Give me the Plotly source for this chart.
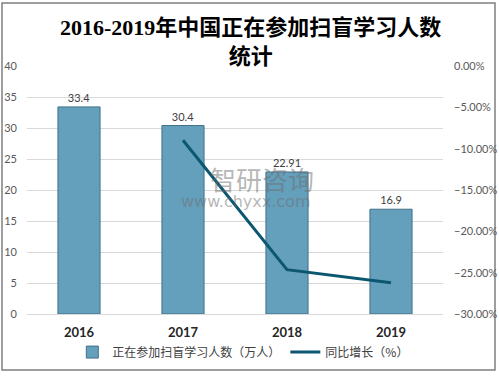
import plotly.graph_objects as go

years = ["2016", "2017", "2018", "2019"]
learners = [33.4, 30.4, 22.91, 16.9]
growth_years = ["2017", "2018", "2019"]
growth = [-8.98, -24.64, -26.23]
bar_labels = ["33.4", "30.4", "22.91", "16.9"]

title = "<b>2016-2019年中国正在参加扫盲学习人数<br>统计</b>"
bar_name = "正在参加扫盲学习人数（万人）"
line_name = "同比增长（%）"

fig = go.Figure()
fig.add_trace(go.Bar(
    x=years, y=learners, name=bar_name, text=bar_labels,
    textposition="outside", cliponaxis=False,
    textfont=dict(size=11, color="#404040", family="Lato, Liberation Sans"),
    marker=dict(color="#649FBC", line=dict(color="#41718A", width=1)),
    width=0.405,
))
fig.add_trace(go.Scatter(
    x=growth_years, y=growth, name=line_name, yaxis="y2", mode="lines",
    line=dict(color="#0C5770", width=3),
))

fig.update_layout(
    width=499, height=379,
    margin=dict(l=27, r=56, t=66, b=65, autoexpand=False),
    paper_bgcolor="white", plot_bgcolor="white",
    font=dict(family="Noto Sans CJK SC", color="#404040"),
    bargap=0.6,
    showlegend=True,
    legend=dict(orientation="h", x=0.52, xanchor="center", yref="container",
                y=0.071, yanchor="middle",
                font=dict(size=12, color="#404040", family="Noto Sans CJK SC"),
                itemwidth=30, tracegroupgap=0),
    xaxis=dict(showgrid=False, showline=True, linecolor="#D9D9D9", linewidth=1,
               ticks="", automargin=False,
               tickfont=dict(size=13, color="#262626", family="Lato, Liberation Sans",
                             weight="bold"),
               ticklabelstandoff=6),
    yaxis=dict(range=[0, 40], dtick=5, showgrid=True, gridcolor="#D9D9D9", zeroline=False,
               automargin=False,
               tickfont=dict(size=11, color="#595959", family="Lato, Liberation Sans"),
               ticklabelstandoff=9),
    yaxis2=dict(range=[-30, 0], dtick=5, overlaying="y", side="right", showgrid=False,
                zeroline=False, tickformat=".2f", ticksuffix="%", automargin=False,
                tickfont=dict(size=11, color="#595959", family="Lato, Liberation Sans"),
                ticklabelstandoff=10),
    shapes=[dict(type="rect", xref="paper", yref="paper",
                 x0=-0.0601, x1=1.125, y0=-0.2258, y1=1.254,
                 line=dict(color="#7F7F7F", width=1.5), fillcolor="rgba(0,0,0,0)",
                 layer="below")],
    annotations=[
        dict(text=title, xref="paper", yref="paper", x=0.538, y=1.215,
             xanchor="center", yanchor="top", showarrow=False,
             font=dict(family="Liberation Serif, Noto Sans CJK SC", size=22, color="#000000")),
        dict(text="智研咨询", xref="paper", yref="paper", x=0.565, y=0.548,
             showarrow=False, font=dict(size=26, color="rgba(110,110,110,0.5)",
                                        family="Noto Sans CJK SC")),
        dict(text="www.chyxx.com", xref="paper", yref="paper", x=0.525, y=0.455,
             showarrow=False, font=dict(size=16, color="rgba(110,110,110,0.5)",
                                        family="DejaVu Sans")),
    ],
)

fig.write_html("out.html", config={"displayModeBar": False},
               post_script="document.body.style.margin='0';document.body.style.padding='0';")
